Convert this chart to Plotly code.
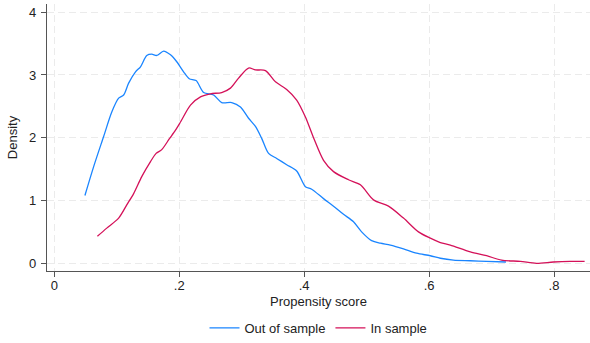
import plotly.graph_objects as go

# Out of sample density
out_x = [0.049, 0.063, 0.079, 0.092, 0.103, 0.111, 0.119, 0.130, 0.138, 0.148, 0.156, 0.164, 0.175, 0.186,
         0.196, 0.207, 0.216, 0.227, 0.239, 0.255, 0.268, 0.284, 0.298, 0.311, 0.322, 0.332, 0.343, 0.356,
         0.372, 0.388, 0.402, 0.412, 0.431, 0.447, 0.463, 0.479, 0.492, 0.508, 0.522, 0.538, 0.559, 0.580,
         0.602, 0.618, 0.639, 0.666, 0.692, 0.723]
out_y = [1.08, 1.54, 2.02, 2.41, 2.63, 2.68, 2.87, 3.05, 3.13, 3.31, 3.33, 3.31, 3.38, 3.32,
         3.21, 3.05, 2.94, 2.91, 2.72, 2.68, 2.56, 2.56, 2.49, 2.31, 2.18, 1.99, 1.75, 1.67,
         1.57, 1.47, 1.22, 1.18, 1.03, 0.91, 0.78, 0.66, 0.50, 0.36, 0.32, 0.29, 0.23, 0.16,
         0.12, 0.08, 0.05, 0.04, 0.03, 0.02]

# In sample density
in_x = [0.069, 0.084, 0.103, 0.116, 0.127, 0.140, 0.154, 0.163, 0.172, 0.184, 0.194, 0.202, 0.218, 0.234,
        0.250, 0.268, 0.282, 0.295, 0.311, 0.322, 0.338, 0.354, 0.372, 0.388, 0.402, 0.415, 0.431, 0.447,
        0.471, 0.490, 0.511, 0.535, 0.559, 0.583, 0.602, 0.618, 0.634, 0.666, 0.692, 0.716, 0.746, 0.772,
        0.799, 0.826, 0.849]
in_y = [0.43, 0.56, 0.72, 0.93, 1.11, 1.38, 1.62, 1.75, 1.81, 1.98, 2.12, 2.25, 2.52, 2.65,
        2.70, 2.72, 2.79, 2.95, 3.11, 3.08, 3.07, 2.89, 2.77, 2.60, 2.33, 2.00, 1.64, 1.46,
        1.33, 1.25, 1.01, 0.91, 0.72, 0.50, 0.40, 0.33, 0.29, 0.18, 0.12, 0.05, 0.03, 0.00,
        0.02, 0.03, 0.03]

x_ticks = [0, 0.2, 0.4, 0.6, 0.8]
x_tick_labels = ["0", ".2", ".4", ".6", ".8"]
y_ticks = [0, 1, 2, 3, 4]
y_tick_labels = ["0", "1", "2", "3", "4"]

FONT = "Liberation Sans, Arial, sans-serif"
FS = 13

fig = go.Figure()
fig.add_trace(go.Scatter(x=out_x, y=out_y, mode="lines", name="Out of sample",
                         line=dict(color="#1a85ff", width=1.3, shape="spline", smoothing=0.8)))
fig.add_trace(go.Scatter(x=in_x, y=in_y, mode="lines", name="In sample",
                         line=dict(color="#d41159", width=1.3, shape="spline", smoothing=0.8)))

axis_common = dict(
    showline=True, linecolor="#555555", linewidth=1.3,
    ticks="outside", ticklen=5, tickwidth=1.2, tickcolor="#555555",
    showgrid=True, gridcolor="#ebebeb", griddash="7px,4px", gridwidth=1.3,
    zeroline=False, automargin=False,
    tickfont=dict(family=FONT, size=FS, color="#222222"),
)

fig.update_layout(
    width=590, height=343,
    margin=dict(l=47, r=0, t=4, b=72, autoexpand=False),
    paper_bgcolor="white", plot_bgcolor="white",
    font=dict(family=FONT, size=FS, color="#222222"),
    xaxis=dict(range=[-0.0117, 0.8576], tickvals=x_ticks, ticktext=x_tick_labels,
               ticklabelstandoff=-3,
               title=dict(text="Propensity score", font=dict(family=FONT, size=FS, color="#222222"), standoff=5),
               **axis_common),
    yaxis=dict(range=[-0.123, 4.13], tickvals=y_ticks, ticktext=y_tick_labels,
               ticklabelstandoff=2,
               title=dict(text="Density", font=dict(family=FONT, size=FS, color="#222222"), standoff=8),
               **axis_common),
    showlegend=True,
    legend=dict(orientation="h", x=0.5, xanchor="center", yref="container", y=0.044, yanchor="middle",
                font=dict(family=FONT, size=FS, color="#222222"), bgcolor="rgba(0,0,0,0)"),
)

fig.write_html("out.html", config={"displayModeBar": False},
               post_script="document.body.style.margin='0';document.body.style.padding='0';")
